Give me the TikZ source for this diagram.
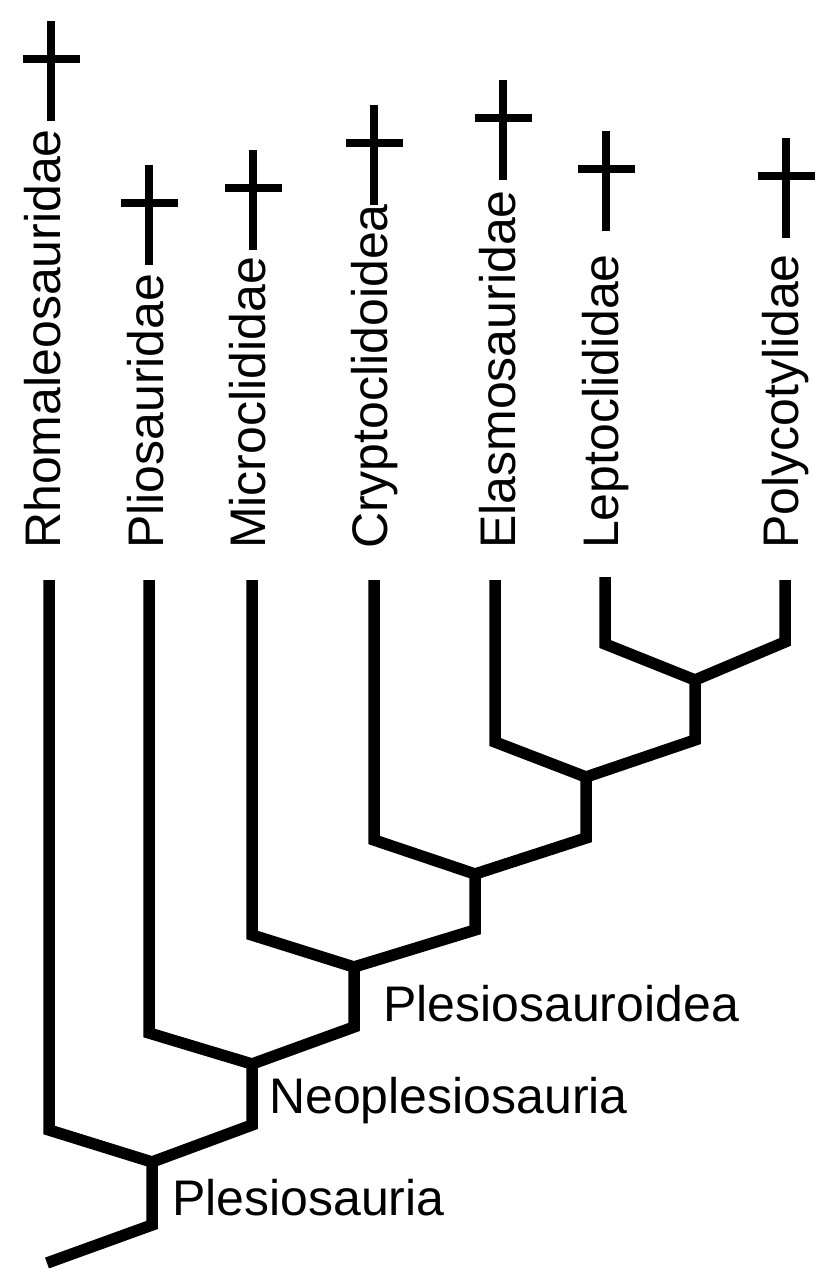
\documentclass[tikz,border=0pt]{standalone}
\usepackage{fontspec}
\setmainfont{Liberation Sans}
\begin{document}
\begin{tikzpicture}[x=1pt,y=-1pt,
  branch/.style={line width=11.5pt,line cap=butt,line join=miter,black},
  dagline/.style={line width=8.5pt,line cap=butt,black},
  tiplabel/.style={rotate=90,anchor=base west,inner sep=0pt,font=\fontsize{50pt}{60pt}\selectfont},
  cladelabel/.style={anchor=base west,inner sep=0pt,font=\fontsize{50pt}{60pt}\selectfont},
  extinct/.pic={\draw[dagline] (0,0) -- (0,-100); \draw[dagline] (-28.5,-62) -- (28.5,-62);}]
\useasboundingbox (0,0) rectangle (835,1276);
% tip tops
\coordinate (tR) at (49,580);
\coordinate (tP) at (149,580);
\coordinate (tM) at (252,580);
\coordinate (tC) at (374,580);
\coordinate (tE) at (495,580);
\coordinate (tL) at (605,577);
\coordinate (tPc) at (785,580);
% tip corners
\coordinate (cR) at (49,1130);
\coordinate (cP) at (149,1033);
\coordinate (cM) at (252,935);
\coordinate (cC) at (374,840);
\coordinate (cE) at (495,742);
\coordinate (cL) at (605,644);
\coordinate (cPc) at (785,642);
% junctions
\coordinate (jLP) at (695,680);
\coordinate (jE) at (586,777);
\coordinate (jC) at (475,874);
\coordinate (jM) at (354,967);
\coordinate (jP) at (252,1064);
\coordinate (jR) at (152,1162);
% stem bottoms
\coordinate (bLP) at (695,740);
\coordinate (bE) at (586,838);
\coordinate (bC) at (475,930);
\coordinate (bM) at (354,1027);
\coordinate (bP) at (252,1125);
\coordinate (bR) at (152,1225);
\coordinate (root) at (47,1263);
% branches
\draw[branch] (tPc) -- (cPc) -- (jLP) -- (cL) -- (tL);
\draw[branch] (jLP) -- (bLP) -- (jE) -- (cE) -- (tE);
\draw[branch] (jE) -- (bE) -- (jC) -- (cC) -- (tC);
\draw[branch] (jC) -- (bC) -- (jM) -- (cM) -- (tM);
\draw[branch] (jM) -- (bM) -- (jP) -- (cP) -- (tP);
\draw[branch] (jP) -- (bP) -- (jR) -- (cR) -- (tR);
\draw[branch] (jR) -- (bR) -- (root);
% tip labels
\node[tiplabel] (lR) at (60,549) {Rhomaleosauridae};
\node[tiplabel] (lP) at (163,549) {Pliosauridae};
\node[tiplabel] (lM) at (265,549) {Microclididae};
\node[tiplabel] (lC) at (387,549) {Cryptoclidoidea};
\node[tiplabel] (lE) at (515,549) {Elasmosauridae};
\node[tiplabel] (lL) at (618,549) {Leptoclididae};
\node[tiplabel] (lPc) at (798,549) {Polycotylidae};
% clade labels
\node[cladelabel] (nPs) at (172,1215) {Plesiosauria};
\node[cladelabel] (nNeo) at (269,1113) {Neoplesiosauria};
\node[cladelabel] (nPsd) at (383,1021) {Plesiosauroidea};
% extinction daggers
\pic at (51,121) {extinct};
\pic at (149,265) {extinct};
\pic at (253,250) {extinct};
\pic at (374,205) {extinct};
\pic at (503,180) {extinct};
\pic at (606,231) {extinct};
\pic at (786,238) {extinct};
\end{tikzpicture}
\end{document}
